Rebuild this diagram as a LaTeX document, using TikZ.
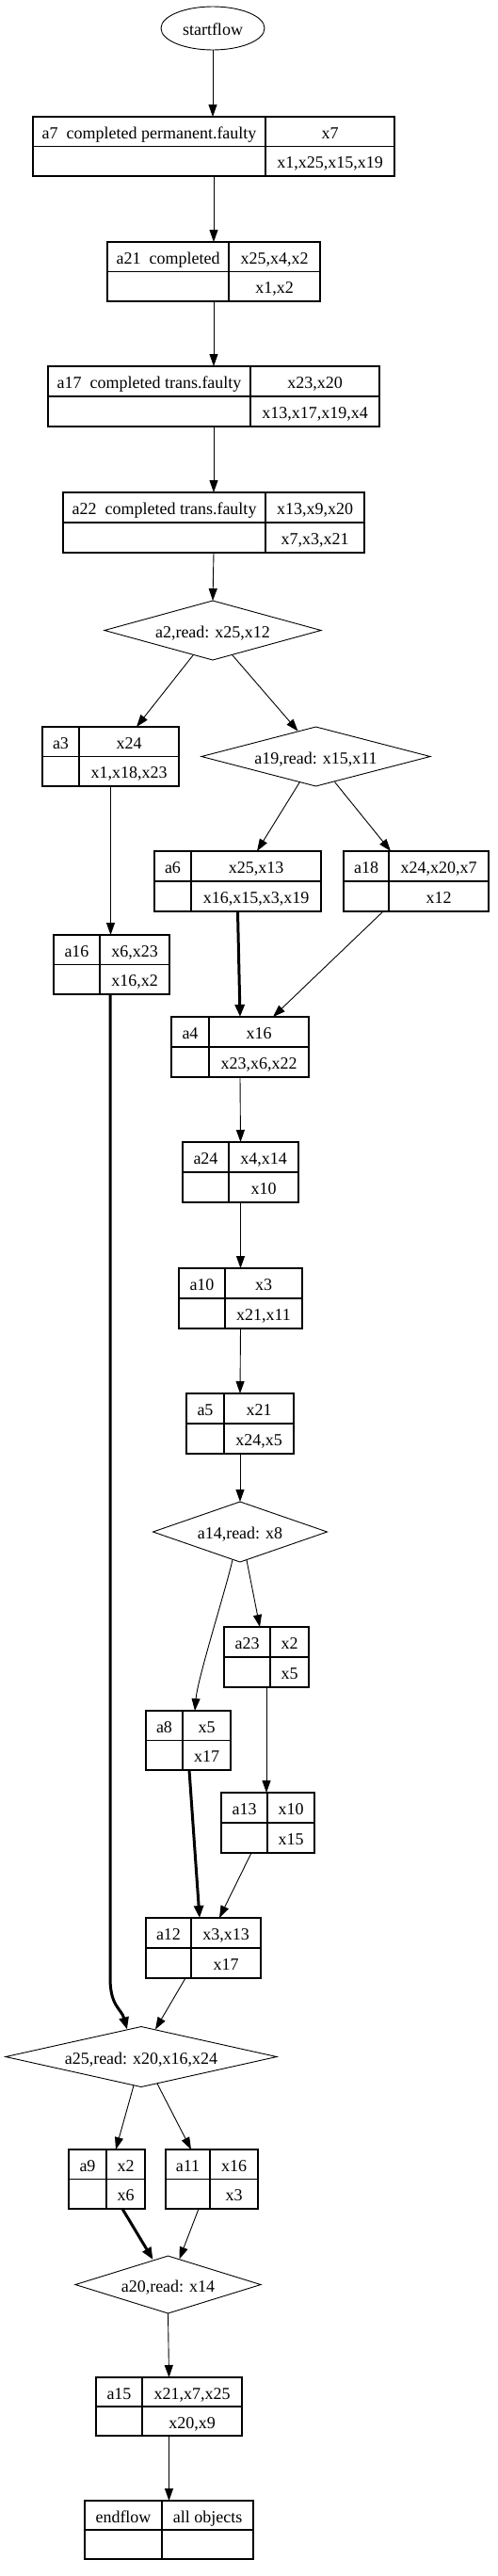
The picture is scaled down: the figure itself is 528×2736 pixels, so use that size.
\documentclass[tikz,border=0pt]{standalone}
\usepackage{fontspec}
\setmainfont{Liberation Serif}[Ligatures=CommonOff]
\usetikzlibrary{arrows.meta,shapes.geometric,calc}
\newcommand\lblfont{\fontsize{18}{20}\selectfont}
\tikzset{
  recbox/.style={draw, line width=1.1pt, inner sep=0pt, outer sep=0pt},
  recline/.style={line width=1.1pt},
  rectext/.style={inner sep=0pt, text height=15.5pt, text depth=0.5pt, font=\lblfont},
  dia/.style={draw, diamond, line width=0.9pt, inner sep=0pt, outer sep=0pt,
    text height=15.5pt, text depth=0.5pt, font=\lblfont},
  conn/.style={line width=0.9pt, -{Triangle[length=13pt,width=9pt]}},
  conn heavy/.style={line width=3pt, -{Triangle[length=13pt,width=10pt]}},
}
% name, left, divider, right, top, bottom, label, top-right, bottom-right
\newcommand\recnode[9]{%
  \node[recbox, anchor=north west, minimum width={(#4-#2)*1pt},
        minimum height={(#6-#5)*1pt}] (#1) at (#2,#5) {};
  \draw[recline] (#3,#5) -- (#3,#6);
  \draw[recline] (#2,{(#5+#6)/2}) -- (#4,{(#5+#6)/2});
  \node[rectext] (#1-l) at ({(#2+#3)/2},{(3*#5+#6)/4}) {#7};
  \node[rectext] (#1-r) at ({(#3+#4)/2},{(3*#5+#6)/4}) {#8};
  \node[rectext] (#1-b) at ({(#3+#4)/2},{(#5+3*#6)/4}) {#9};
}
\begin{document}
\begin{tikzpicture}[x=1pt,y=-1pt]
\fill[white] (0,0) rectangle (528,2736);
\useasboundingbox (0,0) rectangle (528,2736);

\node[draw, ellipse, line width=0.9pt, minimum width=110pt, minimum height=46pt,
      inner sep=0pt, text height=15.5pt, text depth=0.5pt, font=\lblfont]
      (startflow) at (226,30) {startflow};

\recnode{a7}{35}{282}{419}{124}{187}{a7~~completed permanent.faulty}{x7}{x1,x25,x15,x19}
\recnode{a21}{114}{243}{340}{257}{320}{a21~~completed}{x25,x4,x2}{x1,x2}
\recnode{a17}{51}{266}{403}{389}{453}{a17~~completed trans.faulty}{x23,x20}{x13,x17,x19,x4}
\recnode{a22}{67}{282}{387}{523}{587}{a22~~completed trans.faulty}{x13,x9,x20}{x7,x3,x21}

\node[dia, minimum width=230pt, minimum height=63pt, shape aspect=3.65] (a2) at (226,669.5) {a2,read: x25,x12};
\recnode{a3}{45}{84}{190}{772}{835}{a3}{x24}{x1,x18,x23}
\node[dia, minimum width=243pt, minimum height=63pt, shape aspect=3.86] (a19) at (335.5,803.5) {a19,read: x15,x11};

\recnode{a6}{164}{203}{341}{904}{968}{a6}{x25,x13}{x16,x15,x3,x19}
\recnode{a18}{365}{413}{519}{904}{968}{a18}{x24,x20,x7}{x12}
\recnode{a16}{57}{106}{180}{993}{1056}{a16}{x6,x23}{x16,x2}
\recnode{a4}{182}{222}{328}{1080}{1144}{a4}{x16}{x23,x6,x22}
\recnode{a24}{194}{243}{317}{1213}{1277}{a24}{x4,x14}{x10}
\recnode{a10}{190}{239}{321}{1347}{1411}{a10}{x3}{x21,x11}
\recnode{a5}{198}{238}{312}{1480}{1544}{a5}{x21}{x24,x5}

\node[dia, minimum width=185pt, minimum height=64pt, shape aspect=2.9] (a14) at (255,1627) {a14,read: x8};
\recnode{a23}{238}{287}{328}{1728}{1792}{a23}{x2}{x5}
\recnode{a8}{155}{194}{245}{1817}{1880}{a8}{x5}{x17}
\recnode{a13}{235}{284}{334}{1904}{1968}{a13}{x10}{x15}
\recnode{a12}{155}{203}{277}{2037}{2101}{a12}{x3,x13}{x17}

\node[dia, minimum width=288pt, minimum height=64pt, shape aspect=4.5] (a25) at (150,2184.5) {a25,read: x20,x16,x24};
\recnode{a9}{73}{113}{154}{2283}{2346}{a9}{x2}{x6}
\recnode{a11}{176}{223}{274}{2283}{2346}{a11}{x16}{x3}
\node[dia, minimum width=197pt, minimum height=61pt, shape aspect=3.2] (a20) at (178.5,2426.5) {a20,read: x14};
\recnode{a15}{102}{151}{257}{2525}{2587}{a15}{x21,x7,x25}{x20,x9}
\recnode{endflow}{90}{172}{269}{2656}{2718}{endflow}{all objects}{}

% connectors
\draw[conn] (startflow.south) -- (startflow.south |- a7.north);
\draw[conn] (a7.south) -- (a21.north);
\draw[conn] (a21.south) -- (a17.north);
\draw[conn] (a17.south) -- (a22.north);
\draw[conn] (a22.south) -- (a2.north);
\draw[conn] ([shift={(-21,26.5)}]a2.center) -- ([xshift=27.5pt]a3.north);
\draw[conn] ([shift={(21,26.5)}]a2.center) -- ([shift={(-19,-27)}]a19.center);
\draw[conn] ([shift={(-17,27)}]a19.center) -- ([xshift=20.5pt]a6.north);
\draw[conn] ([shift={(20,27)}]a19.center) -- ([xshift=-27pt]a18.north);
\draw[conn] (a3.south) -- (a3.south |- a16.north);
\draw[conn heavy] ([xshift=-1.5pt]a16.south) -- ([xshift=-1.5pt]a16.south |- a12.south)
   .. controls +(0,30) and +(-6,-22) .. ([shift={(-15,-29)}]a25.center);
\draw[conn heavy] (a6.south) -- (a4.north);
\draw[conn] ([xshift=-35pt]a18.south) -- ([xshift=35pt]a4.north);
\draw[conn] (a4.south) -- (a24.north);
\draw[conn] (a24.south) -- (a10.north);
\draw[conn] (a10.south) -- (a5.north);
\draw[conn] (a5.south) -- (a14.north);
\draw[conn] ([shift={(7,30)}]a14.center) -- ([xshift=-7pt]a23.north);
\draw[conn] ([shift={(-8,29.5)}]a14.center) .. controls +(-6,28) and +(3,-35) .. ([xshift=7pt]a8.north);
\draw[conn] (a23.south) -- (a23.south |- a13.north);
\draw[conn heavy] ([xshift=1pt]a8.south) -- ([xshift=-4pt]a12.north);
\draw[conn] ([xshift=-17.5pt]a13.south) -- ([xshift=17pt]a12.north);
\draw[conn] ([xshift=-19pt]a12.south) -- ([shift={(15,-29)}]a25.center);
\draw[conn] ([shift={(-8,30.5)}]a25.center) -- ([xshift=9.5pt]a9.north);
\draw[conn] ([shift={(17,28.5)}]a25.center) -- ([xshift=-22pt]a11.north);
\draw[conn heavy] ([xshift=16.5pt]a9.south) -- ([shift={(-16,-26.5)}]a20.center);
\draw[conn] ([xshift=-14pt]a11.south) -- ([shift={(12,-27)}]a20.center);
\draw[conn] (a20.south) -- (a15.north);
\draw[conn] (a15.south) -- (endflow.north);
\end{tikzpicture}
\end{document}
